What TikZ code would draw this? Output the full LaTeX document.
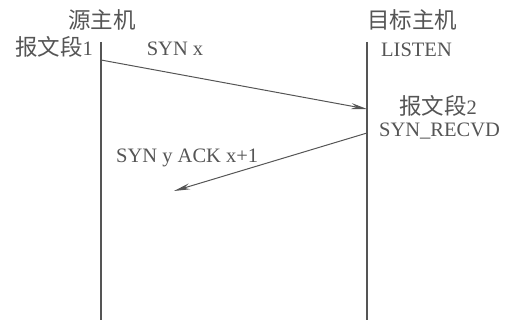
\documentclass[tikz,border=0pt]{standalone}
\usepackage{fontspec}
\setmainfont{Liberation Serif}
\newfontfamily\cjk{Noto Sans CJK SC}
\usetikzlibrary{arrows.meta}
\definecolor{ink}{RGB}{85,85,85}
\begin{document}
\begin{tikzpicture}[x=1pt,y=-1pt,
  lifeline/.style={draw=ink,line width=1.1pt},
  msg/.style={draw=ink,line width=1pt,-{Stealth[length=16pt,width=6pt]}},
  lab/.style={text=ink,font=\fontsize{20.5}{22}\selectfont,inner sep=0pt},
  cjklab/.style={text=ink,font=\cjk\fontsize{22.5}{24}\selectfont,inner sep=0pt}]
\useasboundingbox (0,0) rectangle (517,320);
\coordinate (lt) at (101,42);
\coordinate (lb) at (101,320);
\coordinate (rt) at (367,42);
\coordinate (rb) at (367,320);
\draw[lifeline] (lt) -- (lb);
\draw[lifeline] (rt) -- (rb);
\coordinate (a1s) at (101,60);
\coordinate (a1e) at (367,109);
\coordinate (a2s) at (367,133);
\coordinate (a2e) at (174,191);
\draw[msg] (a1s) -- (a1e);
\draw[msg] (a2s) -- (a2e);
\node[cjklab] (src) at (102,20) {源主机};
\node[cjklab] (dst) at (412,20) {目标主机};
\node[cjklab,anchor=east] (seg1) at (93,47) {报文段{\fontspec{Liberation Serif}\fontsize{20.5}{22}\selectfont 1}};
\node[lab] (synx) at (175,49) {SYN x};
\node[lab,anchor=west] (listen) at (381,50) {LISTEN};
\node[cjklab] (seg2) at (438,106) {报文段{\fontspec{Liberation Serif}\fontsize{20.5}{22}\selectfont 2}};
\node[lab,anchor=west] (recvd) at (379,131) {SYN\_RECVD};
\node[lab,anchor=west] (synack) at (116,158) {SYN y ACK x+1};
\end{tikzpicture}
\end{document}
